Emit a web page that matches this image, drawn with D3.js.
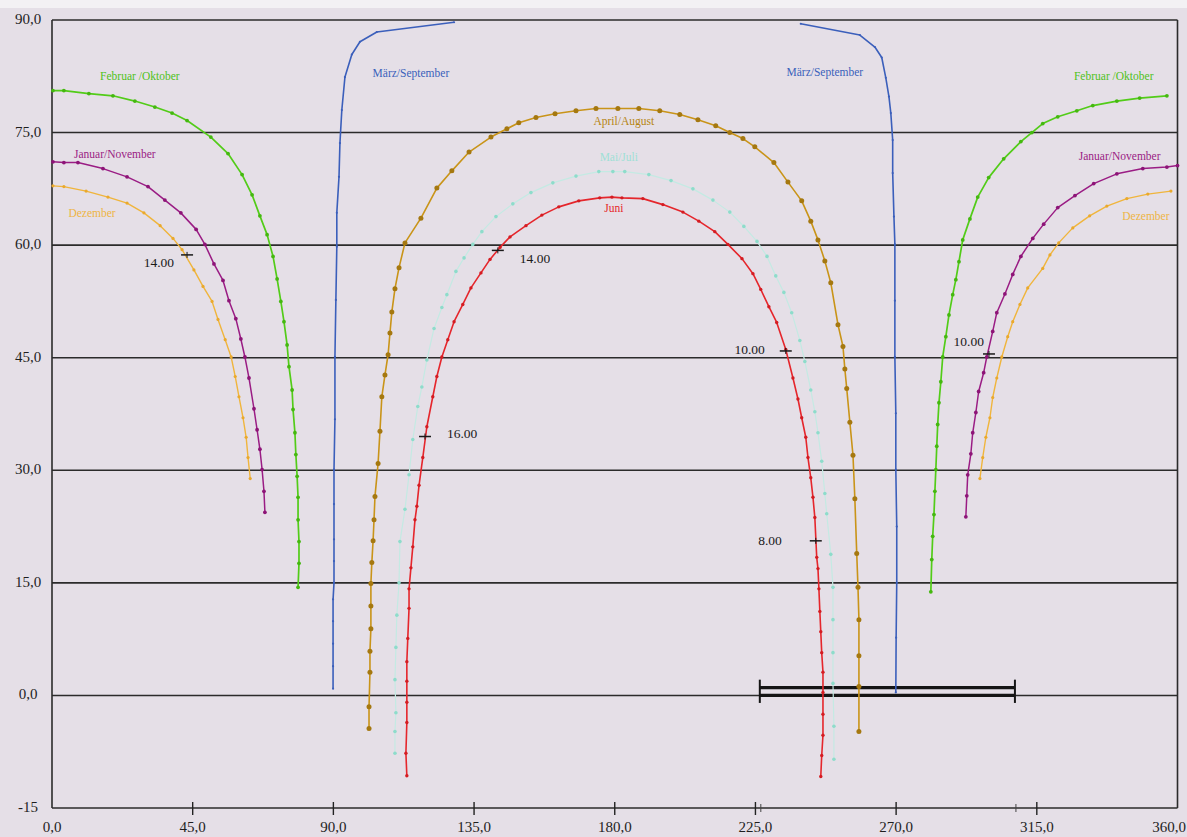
<!DOCTYPE html>
<html>
<head>
<meta charset="utf-8">
<script src="https://cdn.jsdelivr.net/npm/d3@7"></script>
<style>
  html, body { margin: 0; padding: 0; background: #e5dfe7; }
  svg { display: block; font-family: "Liberation Serif", "DejaVu Serif", serif; }
</style>
</head>
<body>
<div id="svg-area"></div>
<script>
// sun path curves, [azimuth, elevation] in degrees

var dezemberLeft = [[0.3,67.9],[3.8,67.8],[10.9,67.2],[17.9,66.4],[24.0,65.6],[29.4,64.3],[34.6,62.6],[38.7,60.9],
  [41.6,59.4],[45.4,56.7],[48.3,54.5],[51.2,52.5],[53.1,50.1],[55.4,47.4],[57.3,45.1],[58.6,42.5],[59.8,39.8],
  [61.1,37.0],[62.1,34.4],[62.7,31.7],[63.4,28.9]];
var dezemberRight = [[296.8,28.9],[297.7,31.7],[298.7,34.4],[300.0,37.0],[300.9,39.7],[302.2,42.3],[303.8,45.1],
  [305.7,47.8],[307.3,49.8],[309.6,52.1],[312.1,54.3],[316.9,56.9],[319.2,58.7],[322.0,60.3],[326.5,62.3],
  [331.9,63.9],[337.4,65.2],[343.8,66.2],[350.5,66.8],[357.9,67.2]];

var januarLeft = [[0.3,71.1],[3.8,71.0],[8.3,71.0],[16.3,70.2],[24.0,69.1],[30.7,67.8],[36.1,66.0],[41.2,64.3],
  [46.1,62.1],[48.9,60.1],[51.8,57.5],[54.7,55.3],[56.6,52.6],[58.8,50.2],[60.4,47.5],[61.7,45.1],[63.0,42.3],
  [64.6,38.2],[65.6,35.4],[66.5,32.8],[67.2,30.1],[67.8,27.2],[68.1,24.4]];
var januarRight = [[292.3,23.8],[292.6,26.6],[292.9,29.4],[293.9,32.2],[294.5,35.0],[295.5,37.7],[296.4,40.5],
  [298.0,43.0],[299.0,45.1],[300.9,48.5],[302.2,51.0],[304.8,53.5],[307.3,56.1],[309.9,58.5],[313.7,60.9],
  [317.2,62.8],[321.7,65.0],[327.2,66.6],[333.2,68.2],[340.6,69.5],[348.9,70.2],[356.6,70.4],[360.0,70.6]];

var februarLeft = [[0.3,80.6],[3.8,80.6],[11.8,80.2],[19.5,79.9],[26.5,79.2],[32.9,78.4],[38.4,77.6],[43.2,76.6],
  [50.8,74.4],[56.3,72.2],[60.8,69.4],[64.0,66.7],[66.5,63.9],[68.8,61.4],[70.7,58.5],[72.0,55.5],[73.2,52.5],
  [74.2,49.8],[75.2,46.7],[75.8,43.8],[76.8,40.7],[77.1,38.1],[77.7,35.0],[78.0,32.1],[78.4,29.2],[78.7,26.4],
  [78.7,23.4],[79.0,20.5],[79.0,17.6],[78.7,14.4]];
var februarRight = [[281.1,13.8],[281.4,18.1],[281.7,21.2],[282.1,24.1],[282.4,27.2],[282.7,30.1],[283.0,33.2],
  [283.3,36.1],[283.7,39.0],[284.3,41.8],[284.9,45.1],[285.9,47.8],[286.9,50.7],[288.1,53.4],[289.1,55.4],
  [290.1,57.8],[291.3,60.7],[293.6,63.5],[296.1,66.4],[299.6,69.0],[304.4,71.5],[309.9,73.8],[313.4,75.0],
  [316.9,76.2],[321.7,77.1],[327.8,77.9],[332.9,78.6],[340.6,79.2],[347.9,79.6],[356.6,79.9]];

var maerzLeft = [[89.9,0.9],[89.9,3.9],[89.9,6.9],[89.9,9.9],[89.9,12.8],[90.2,15.0],[90.2,17.9],[90.2,20.8],
  [90.2,25.5],[90.2,30.1],[90.5,36.8],[90.5,45.1],[90.8,52.7],[91.1,59.8],[91.1,64.3],[91.8,69.1],[92.1,73.6],
  [92.7,78.0],[93.7,82.4],[95.9,85.4],[98.5,87.1],[103.9,88.4],[128.6,89.7]];
var maerzRight = [[239.5,89.5],[258.4,88.0],[263.2,86.4],[265.4,85.0],[266.7,82.3],[267.7,79.8],[268.3,77.6],
  [268.9,74.0],[268.9,69.6],[269.3,63.8],[269.6,60.1],[269.6,52.6],[269.6,45.1],[269.9,37.6],[269.9,30.1],
  [270.2,22.5],[270.2,15.0],[270.0,7.7],[269.9,0.4]];

var aprilAugust = [[101.4,-4.4],[101.4,-1.5],[101.7,3.1],[101.7,5.9],[102.0,8.9],[102.0,11.9],[102.0,14.9],
  [102.3,17.7],[102.7,20.6],[103.0,23.4],[103.3,26.5],[104.3,30.9],[104.9,35.2],[105.5,39.8],[106.5,42.7],
  [107.5,45.4],[108.1,48.3],[108.7,51.1],[109.7,54.2],[111.0,57.0],[112.9,60.3],[118.0,63.6],[123.1,67.6],
  [127.9,69.9],[133.4,72.4],[140.4,74.4],[145.5,75.5],[149.3,76.3],[154.8,77.0],[160.9,77.5],[167.6,77.9],
  [174.0,78.2],[181.0,78.2],[187.7,78.2],[194.4,77.9],[200.8,77.4],[206.6,76.7],[212.3,75.9],[216.8,75.0],
  [221.0,74.2],[224.8,73.1],[230.9,71.0],[235.4,68.4],[239.8,65.9],[242.7,63.2],[245.0,60.7],[247.2,57.9],
  [249.1,55.0],[251.4,49.4],[253.0,46.5],[253.6,43.5],[254.2,40.9],[255.2,36.4],[256.2,32.0],[256.8,26.2],
  [257.4,18.9],[257.8,14.4],[258.1,10.1],[258.1,5.3],[258.1,1.2],[258.1,-4.8]];

var maiJuli = [[109.7,-7.7],[109.7,-4.8],[110.0,-2.3],[109.7,2.1],[110.0,6.4],[110.3,10.7],[111.0,15.0],
  [111.3,20.5],[112.9,24.8],[114.2,29.4],[115.4,34.1],[117.0,38.5],[118.3,41.1],[119.9,44.7],[122.2,48.9],
  [124.7,51.7],[126.3,53.4],[129.2,56.5],[131.8,58.3],[134.6,60.1],[137.5,61.8],[142.0,63.8],[147.4,65.5],
  [153.2,67.0],[160.2,68.3],[167.6,69.2],[174.9,69.8],[179.4,69.8],[183.2,69.8],[190.9,69.4],[198.0,68.6],
  [205.0,67.5],[211.4,66.0],[216.8,64.4],[221.3,62.5],[225.5,60.5],[228.7,58.5],[231.5,55.9],[234.1,53.7],
  [236.6,51.0],[239.2,47.3],[240.8,44.5],[242.7,40.7],[244.0,37.8],[245.0,35.0],[246.2,31.2],[247.2,26.9],
  [247.8,24.2],[249.1,18.8],[249.8,14.4],[249.8,10.1],[249.8,5.7],[249.8,1.6],[250.1,-4.1],[250.1,-8.5]];

var juni = [[113.5,-10.7],[113.2,-7.7],[113.5,-3.6],[113.5,-0.9],[113.5,1.9],[113.5,4.5],[113.8,7.6],
  [114.2,11.6],[114.2,14.2],[114.8,17.0],[115.4,19.8],[116.1,23.4],[116.7,25.2],[117.4,28.0],[118.6,31.7],
  [119.9,35.8],[121.8,39.8],[123.1,42.5],[124.7,45.1],[126.6,47.4],[128.6,49.8],[131.4,52.1],[134.0,54.3],
  [137.2,56.3],[140.1,58.1],[143.3,59.7],[146.5,61.1],[151.6,62.6],[156.7,64.0],[162.1,65.1],[168.5,65.9],
  [175.2,66.3],[179.1,66.4],[182.3,66.3],[189.0,66.2],[195.4,65.4],[201.8,64.4],[206.9,63.2],[212.0,61.8],
  [216.2,60.1],[220.7,58.2],[224.2,56.2],[226.7,54.1],[229.3,51.8],[231.8,49.7],[234.7,46.1],[237.0,42.3],
  [238.6,39.5],[239.8,37.0],[241.1,34.4],[241.8,31.7],[242.7,29.0],[243.4,26.4],[244.0,23.7],[244.6,18.4],
  [245.0,16.9],[245.3,14.2],[245.6,11.2],[245.9,8.5],[246.2,5.7],[246.6,3.1],[246.6,0.4],[246.6,-2.5],
  [246.6,-5.3],[246.2,-8.0],[245.9,-10.8]];

// time marks on the curves
var timeLabels = ["14.00", "14.00", "16.00", "10.00", "8.00", "10.00"];
var timePoints = [[43.2,58.7],[142.6,59.3],[119.3,34.5],[234.7,45.9],[244.3,20.6],[299.7,45.5]];

// axes
var xTicks = [0, 45, 90, 135, 180, 225, 270, 315, 360];
var xTickLabels = ["0,0", "45,0", "90,0", "135,0", "180,0", "225,0", "270,0", "315,0", "360,0"];
var yTicks = [90, 75, 60, 45, 30, 15, 0, -15];
var yTickLabels = ["90,0", "75,0", "60,0", "45,0", "30,0", "15,0", "0,0", "-15"];

// the hand drawn bar on the horizon
var barRange = [226.4, 308.0];

var svgWidth = 1187;
var svgHeight = 837;

var svg = d3.select("#svg-area")
  .append("svg")
  .attr("width", svgWidth)
  .attr("height", svgHeight);

// paper
svg.append("rect").attr("width", svgWidth).attr("height", svgHeight).attr("fill", "#e5dfe7");
svg.append("rect").attr("width", svgWidth).attr("height", 8).attr("fill", "#f3f1f4");

var xScale = d3.scaleLinear().domain([0, 360]).range([52, 1177.5]);
var yScale = d3.scaleLinear().domain([-15, 90]).range([808, 20]);

// horizontal grid lines and frame
var grid = svg.append("g");
grid.selectAll("line.h")
  .data(yTicks)
  .enter().append("line")
  .attr("x1", xScale(0))
  .attr("x2", xScale(360))
  .attr("y1", d => yScale(d))
  .attr("y2", d => yScale(d))
  .attr("stroke", "#2b2b2b")
  .attr("stroke-width", 1.6);

grid.append("line")
  .attr("x1", xScale(0)).attr("x2", xScale(0))
  .attr("y1", yScale(90)).attr("y2", yScale(-15))
  .attr("stroke", "#2b2b2b").attr("stroke-width", 1.6);
grid.append("line")
  .attr("x1", xScale(360)).attr("x2", xScale(360))
  .attr("y1", yScale(90)).attr("y2", yScale(-15))
  .attr("stroke", "#2b2b2b").attr("stroke-width", 1.6);

// x ticks
grid.selectAll("line.xt")
  .data(xTicks.slice(1, -1))
  .enter().append("line")
  .attr("x1", d => xScale(d)).attr("x2", d => xScale(d))
  .attr("y1", yScale(-15) - 6).attr("y2", yScale(-15) + 7)
  .attr("stroke", "#222").attr("stroke-width", 1.4);
grid.selectAll("line.bt")
  .data(barRange)
  .enter().append("line")
  .attr("x1", d => xScale(d) + 1).attr("x2", d => xScale(d) + 1)
  .attr("y1", yScale(-15) - 4).attr("y2", yScale(-15) + 4)
  .attr("stroke", "#444").attr("stroke-width", 1);

// tick labels (the last one is pushed left so it stays on the page)
svg.selectAll("text.xl")
  .data(xTicks)
  .enter().append("text")
  .attr("x", (d, i) => i === xTicks.length - 1 ? svgWidth - 1 : xScale(d))
  .attr("y", 832)
  .attr("text-anchor", (d, i) => i === xTicks.length - 1 ? "end" : "middle")
  .attr("font-size", 15)
  .attr("fill", "#1e1e1e")
  .text((d, i) => xTickLabels[i]);

svg.selectAll("text.yl")
  .data(yTicks)
  .enter().append("text")
  .attr("x", 28)
  .attr("y", d => yScale(d) + 4)
  .attr("text-anchor", "middle")
  .attr("font-size", 15)
  .attr("fill", "#1e1e1e")
  .text((d, i) => yTickLabels[i]);

// bar on the horizon
var bar = svg.append("g").attr("stroke", "#151515");
[1.05, 0].forEach(function(v) {
  bar.append("line")
    .attr("x1", xScale(barRange[0])).attr("x2", xScale(barRange[1]))
    .attr("y1", yScale(v)).attr("y2", yScale(v))
    .attr("stroke-width", 3.2);
});
barRange.forEach(function(v) {
  bar.append("line")
    .attr("x1", xScale(v)).attr("x2", xScale(v))
    .attr("y1", yScale(2.1)).attr("y2", yScale(-1))
    .attr("stroke-width", 2);
});

var createLine = d3.line()
  .x(d => xScale(d[0]))
  .y(d => yScale(d[1]));

function drawCurve(data, color, width, dotColor, r) {
  var g = svg.append("g");
  g.append("path")
    .attr("d", createLine(data))
    .attr("fill", "none")
    .attr("stroke", color)
    .attr("stroke-width", width)
    .attr("stroke-linejoin", "round");
  g.selectAll("circle")
    .data(data)
    .enter().append("circle")
    .attr("cx", d => xScale(d[0]))
    .attr("cy", d => yScale(d[1]))
    .attr("r", r)
    .attr("fill", dotColor);
}

drawCurve(maiJuli, "#c4eae3", 1.2, "#8edccb", 1.8);
drawCurve(dezemberLeft, "#f0b53c", 1.4, "#eaa92c", 1.6);
drawCurve(dezemberRight, "#f0b53c", 1.4, "#eaa92c", 1.6);
drawCurve(januarLeft, "#9a1c84", 1.5, "#8d1477", 1.9);
drawCurve(januarRight, "#9a1c84", 1.5, "#8d1477", 1.9);
drawCurve(februarLeft, "#52cc18", 1.7, "#44b80f", 1.9);
drawCurve(februarRight, "#52cc18", 1.7, "#44b80f", 1.9);
drawCurve(maerzLeft, "#3b5fbb", 1.6, "#3b5fbb", 1.1);
drawCurve(maerzRight, "#3b5fbb", 1.6, "#3b5fbb", 1.1);
drawCurve(aprilAugust, "#c99418", 1.6, "#a57810", 2.5);
drawCurve(juni, "#e5262c", 1.6, "#d41c22", 1.7);

// curve names
var labels = svg.append("g").attr("font-size", 11.5);
[
  ["Februar /Oktober", 28.1, 82.6, "#4fc21a"],
  ["Februar /Oktober", 339.6, 82.6, "#4fc21a"],
  ["Januar/November", 20.1, 72.2, "#9a1c84"],
  ["Januar/November", 341.5, 71.9, "#9a1c84"],
  ["Dezember", 12.8, 64.3, "#eeb545"],
  ["Dezember", 349.9, 63.9, "#eeb545"],
  ["März/September", 114.8, 83.0, "#3b5fbb"],
  ["März/September", 247.2, 83.1, "#3b5fbb"],
  ["April/August", 182.9, 76.6, "#b58412"],
  ["Mai/Juli", 181.3, 71.8, "#a0e0d6"],
  ["Juni", 179.7, 65.0, "#e5262c"]
].forEach(function(l) {
  labels.append("text")
    .attr("x", xScale(l[1]))
    .attr("y", yScale(l[2]) + 4)
    .attr("text-anchor", "middle")
    .attr("fill", l[3])
    .text(l[0]);
});

// time marks
var labelOffsets = [[-13, 7, "end"], [22, 8, "start"], [22, -4, "start"], [-21, -2, "end"], [-34, -1, "end"], [-5, -13, "end"]];
var marks = svg.append("g");
timePoints.forEach(function(p, i) {
  var px = xScale(p[0]), py = yScale(p[1]);
  marks.append("line")
    .attr("x1", px - 6).attr("x2", px + 6)
    .attr("y1", py).attr("y2", py)
    .attr("stroke", "#1a1a1a").attr("stroke-width", 1.5);
  marks.append("line")
    .attr("x1", px).attr("x2", px)
    .attr("y1", py - 3).attr("y2", py + 3)
    .attr("stroke", "#1a1a1a").attr("stroke-width", 1);
  marks.append("text")
    .attr("x", px + labelOffsets[i][0])
    .attr("y", py + labelOffsets[i][1] + 5)
    .attr("text-anchor", labelOffsets[i][2])
    .attr("font-size", 13.5)
    .attr("fill", "#1a1a1a")
    .text(timeLabels[i]);
});
</script>
</body>
</html>
